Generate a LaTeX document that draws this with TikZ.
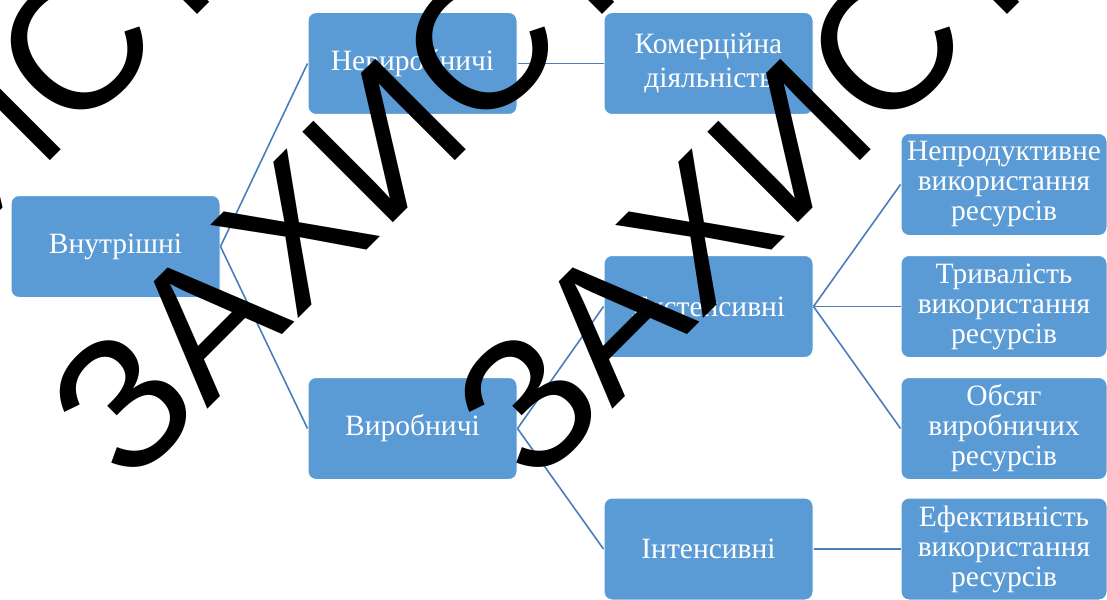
\documentclass[tikz,border=0pt]{standalone}
\usepackage{fontspec}
\setmainfont{Liberation Serif}
\newfontfamily\wmfont{Liberation Sans}
\definecolor{boxblue}{HTML}{5B9BD5}
\definecolor{lineblue}{HTML}{4A7EBB}
\begin{document}
\begin{tikzpicture}[x=1pt,y=-1pt,
  box/.style={rectangle, rounded corners=8pt, fill=boxblue, draw=white, line width=1pt,
    minimum width=209pt, minimum height=102pt, text width=205pt, align=center,
    text=white, font=\fontsize{29.5}{30}\selectfont, inner sep=0pt},
  rbox/.style={box, minimum width=206pt, text width=204pt},
  link/.style={draw=lineblue, line width=1.6pt},
  wm/.style={font=\wmfont\fontsize{186}{186}\selectfont, rotate=45, inner sep=0pt, text=black}]
\useasboundingbox (0,0) rectangle (1107,599);
\node[box] (vn) at (115.5,246.5) {Внутрішні};
\node[box] (nev) at (412.5,63.5) {Невиробничі};
\node[box] (kom) at (708.5,63.5) {Комерційна\\[4pt]діяльність};
\node[box] (vyr) at (412.5,428.5) {Виробничі};
\node[box] (ekst) at (708.5,306.5) {Екстенсивні};
\node[box] (int) at (708.5,549) {Інтенсивні};
\node[rbox] (nep) at (1004,184.5) {Непродуктивне\\використання\\ресурсів};
\node[rbox] (tryv) at (1004,306.5) {Тривалість\\використання\\ресурсів};
\node[rbox] (obs) at (1004,428.5) {Обсяг\\виробничих\\ресурсів};
\node[rbox] (efek) at (1004,549) {Ефективність\\використання\\ресурсів};
\draw[link] (vn.east) -- (nev.west);
\draw[link] (vn.east) -- (vyr.west);
\draw[link] (nev.east) -- (kom.west);
\draw[link] (vyr.east) -- (ekst.west);
\draw[link] (vyr.east) -- (int.west);
\draw[link] (ekst.east) -- (nep.west);
\draw[link] (ekst.east) -- (tryv.west);
\draw[link] (ekst.east) -- (obs.west);
\draw[link] (int.east) -- (efek.west);
\node[wm] (wm1) at (343,183) {ЗАХИСТ};
\node[wm] (wm2) at (748,183) {ЗАХИСТ};
\node[wm] (wm3) at (-62,183) {ЗАХИСТ};
\end{tikzpicture}
\end{document}
